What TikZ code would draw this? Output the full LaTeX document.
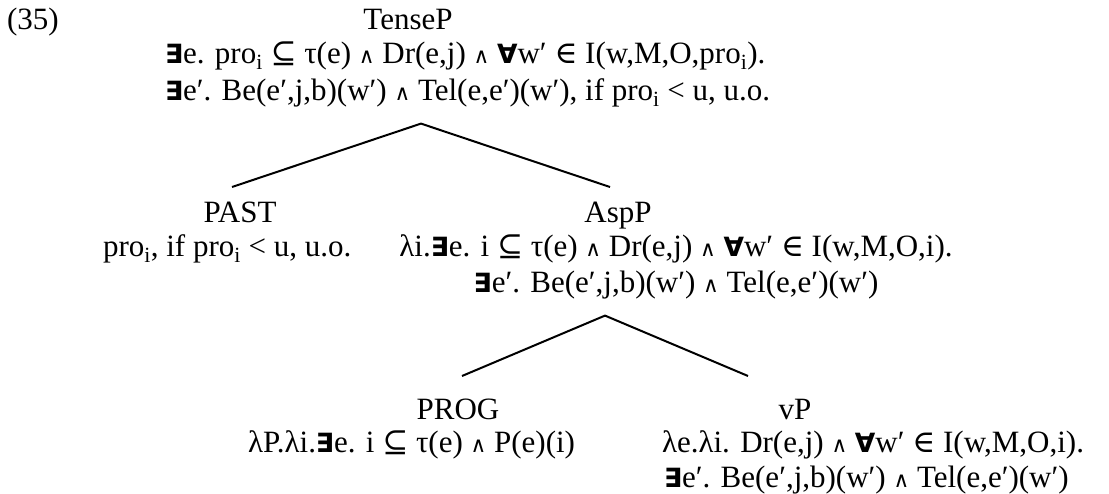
\documentclass[tikz,border=0pt]{standalone}
\usepackage{fontspec}
\setmainfont{Liberation Serif}
\newfontfamily\opsans{DejaVu Sans}
\newfontfamily\opserif{DejaVu Serif}
% logical symbols taken from DejaVu, the serif text from Liberation Serif
\newcommand\qEx{{\opsans\bfseries\fontsize{26.5}{26.5}\selectfont ∃}}
\newcommand\qAll{{\opsans\bfseries\fontsize{26.5}{26.5}\selectfont ∀}}
\newcommand\rSub{{\opserif ⊆}}
\newcommand\rIn{{\opserif ∈}}
\newcommand\rAnd{{\opsans\fontsize{21.5}{21.5}\selectfont ∧}}
\newcommand\pro{pro\textsubscript{i}}

\begin{document}
\begin{tikzpicture}[x=1pt,y=-1pt,
  every node/.style={inner sep=0pt, outer sep=0pt, anchor=base,
    font=\fontsize{31}{36}\selectfont},
  cat/.style={text height=20pt, text depth=0pt},
  lline/.style={anchor=base west},
  branch/.style={line width=2pt}]
\useasboundingbox (0,0) rectangle (1109,494);

% example number
\node[lline] (num) at (7,30) {(35)};

% root
\node[cat] (tp) at (408,30) {TenseP};
\node[lline] (tp1) at (165,64) {\qEx e. \pro{} \rSub{} τ(e) \rAnd{} Dr(e,j) \rAnd{} \qAll w′ \rIn{} I(w,M,O,\pro).};
\node[lline] (tp2) at (165,101) {\qEx e′. Be(e′,j,b)(w′) \rAnd{} Tel(e,e′)(w′), if \pro{} < u, u.o.};

% middle level
\node[cat] (past) at (240,223) {PAST};
\node[lline] (past1) at (103,257) {\pro, if \pro{} < u, u.o.};
\node[cat] (asp) at (618,223) {AspP};
\node (asp1) at (676,257) {λi.\qEx e. i \rSub{} τ(e) \rAnd{} Dr(e,j) \rAnd{} \qAll w′ \rIn{} I(w,M,O,i).};
\node (asp2) at (676,293) {\qEx e′. Be(e′,j,b)(w′) \rAnd{} Tel(e,e′)(w′)};

% bottom level
\node[cat] (prog) at (458,420) {PROG};
\node[lline] (prog1) at (248,452) {λP.λi.\qEx e. i \rSub{} τ(e) \rAnd{} P(e)(i)};
\node[cat] (vp) at (795,420) {vP};
\node[lline] (vp1) at (662,452) {λe.λi. Dr(e,j) \rAnd{} \qAll w′ \rIn{} I(w,M,O,i).};
\node[lline] (vp2) at (664,487) {\qEx e′. Be(e′,j,b)(w′) \rAnd{} Tel(e,e′)(w′)};

% branches: the forks sit just under the mother's formula
\coordinate (fork1) at ([xshift=13pt,yshift=-16pt]tp2.south -| tp);
\coordinate (fork2) at ([xshift=-13pt,yshift=-16pt]asp2.south -| asp);
\draw[branch] ([xshift=-8pt,yshift=16pt]past.north) -- (fork1) -- ([xshift=-8pt,yshift=16pt]asp.north);
\draw[branch] ([xshift=4pt,yshift=24pt]prog.north) -- (fork2) -- ([xshift=-47pt,yshift=24pt]vp.north);
\end{tikzpicture}
\end{document}
